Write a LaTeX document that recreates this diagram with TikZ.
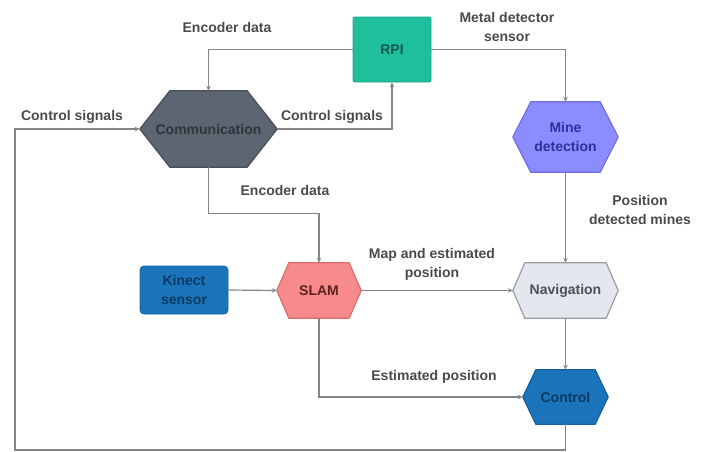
\documentclass[tikz,border=0pt]{standalone}
\usepackage{fontspec}
\setmainfont{Liberation Sans}
\usetikzlibrary{arrows.meta,backgrounds,calc}
\definecolor{lnc}{HTML}{858585}
\definecolor{lbl}{HTML}{4A4A4A}
\definecolor{commF}{HTML}{5E6572}
\definecolor{commD}{HTML}{474C56}
\definecolor{commT}{HTML}{30343B}
\definecolor{rpiF}{HTML}{1FBF9E}
\definecolor{rpiD}{HTML}{17A386}
\definecolor{rpiT}{HTML}{175A4C}
\definecolor{mineF}{HTML}{8A8CFF}
\definecolor{mineD}{HTML}{6C6EE0}
\definecolor{mineT}{HTML}{2E3199}
\definecolor{blueF}{HTML}{1B74BA}
\definecolor{blueD}{HTML}{14609C}
\definecolor{blueT}{HTML}{0C3A63}
\definecolor{slamF}{HTML}{F78A8A}
\definecolor{slamD}{HTML}{D96C6C}
\definecolor{slamT}{HTML}{5E2020}
\definecolor{navF}{HTML}{E5E7EE}
\definecolor{navD}{HTML}{9A9CA3}
\definecolor{navT}{HTML}{4E5058}
\tikzset{
  x=1pt, y=-1pt,
  every node/.style={font=\fontsize{14}{19}\selectfont\bfseries},
  boxnode/.style={inner sep=0pt, align=center},
  lab/.style={text=lbl, align=center, inner sep=0pt},
  conn/.style={draw=lnc, line width=1.2pt, -{Stealth[length=5pt,width=4.5pt]}},
}
\newcommand{\hexshape}[4]{% name, inset, fill, draw
  \path[fill=#3, draw=#4, line width=1.2pt, line join=round]
    (#1.west) -- ([xshift=#2]#1.north west) -- ([xshift=-#2]#1.north east)
    -- (#1.east) -- ([xshift=-#2]#1.south east) -- ([xshift=#2]#1.south west) -- cycle;}
\begin{document}
\begin{tikzpicture}
\useasboundingbox (0,0) rectangle (702,451);

% nodes
\node[boxnode, minimum width=137pt, minimum height=76pt, text=commT] (comm) at (208.5,129) {Communication};
\node[boxnode, minimum width=78pt, minimum height=65pt, text=rpiT, fill=rpiF, draw=rpiD, line width=0.8pt, rounded corners=2pt] (rpi) at (392,49.5) {RPI};
\node[boxnode, minimum width=105pt, minimum height=70pt, text=mineT] (mine) at (565.5,137) {Mine\\detection};
\node[boxnode, minimum width=88pt, minimum height=48pt, text=blueT, fill=blueF, draw=blueD, line width=0.8pt, rounded corners=4pt] (kinect) at (184,290) {Kinect\\sensor};
\node[boxnode, minimum width=84pt, minimum height=55pt, text=slamT] (slam) at (319,290.5) {SLAM};
\node[boxnode, minimum width=105pt, minimum height=55pt, text=navT] (nav) at (565.5,290.5) {Navigation};
\node[boxnode, minimum width=85pt, minimum height=54pt, text=blueT] (ctrl) at (565.5,397) {Control};

\begin{scope}[on background layer]
  \hexshape{comm}{30pt}{commF}{commD}
  \hexshape{mine}{18pt}{mineF}{mineD}
  \hexshape{slam}{12pt}{slamF}{slamD}
  \hexshape{nav}{12pt}{navF}{navD}
  \hexshape{ctrl}{13pt}{blueF}{blueD}
\end{scope}

% connectors
\coordinate (loopc) at (15,450);
\draw[conn] (rpi.west) -| (comm.north);
\draw[conn] (comm.east) -| (rpi.south);
\draw[conn] (rpi.east) -| (mine.north);
\draw[conn] (mine.south) -- (nav.north);
\draw[conn] (comm.south) -- ++(0,46) -| (slam.north);
\draw[conn] (kinect.east) -- (slam.west);
\draw[conn] (slam.east) -- (nav.west);
\draw[conn] (nav.south) -- (ctrl.north);
\draw[conn] (slam.south) |- (ctrl.west);
\draw[conn] (ctrl.south) |- (loopc) |- (comm.west);

% labels
\node[lab] (l1) at (227,27) {Encoder data};
\node[lab] (l2) at (507,27) {Metal detector\\sensor};
\node[lab] (l3) at (332,117) {Control signals};
\node[lab] (l4) at (72,117) {Control signals};
\node[lab] (l5) at (285,190) {Encoder data};
\node[lab] (l6) at (640,210) {Position\\detected mines};
\node[lab] (l7) at (432,264) {Map and estimated\\position};
\node[lab] (l8) at (434,377) {Estimated position};
\end{tikzpicture}
\end{document}
